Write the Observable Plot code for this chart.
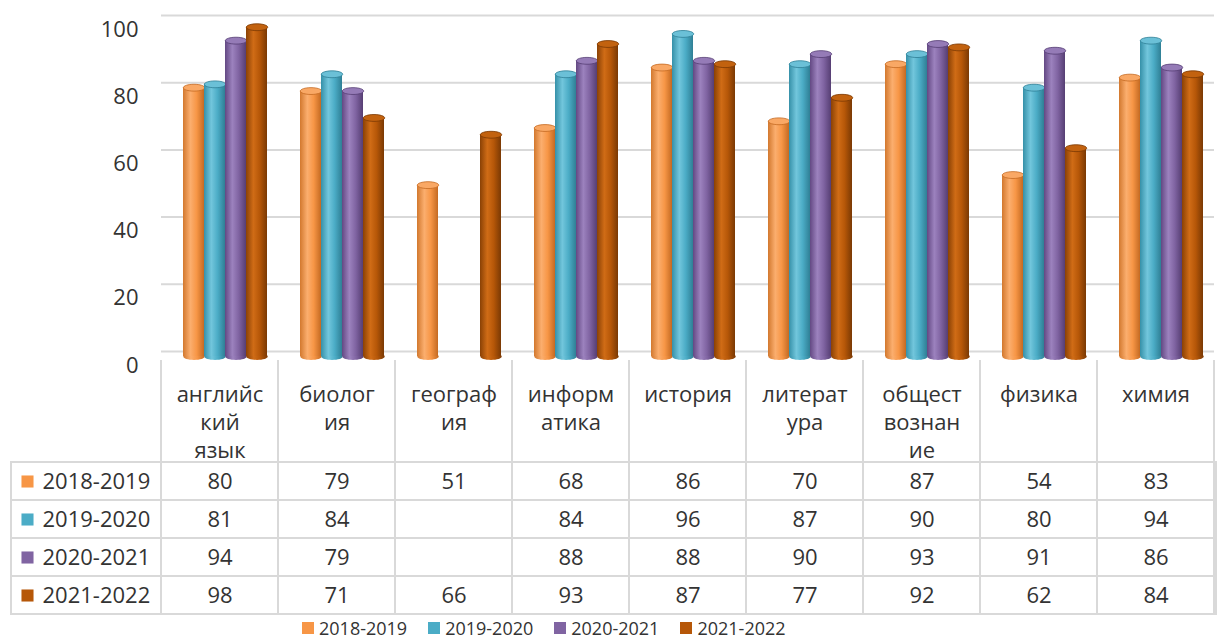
<!DOCTYPE html>
<html><head><meta charset="utf-8">
<script src="https://cdn.jsdelivr.net/npm/d3@7"></script>
<script src="https://cdn.jsdelivr.net/npm/@observablehq/plot@0.6"></script>
<style>
html,body{margin:0;padding:0;background:#fff;overflow:hidden;}
#chart svg{display:block;}
#legend .lg-swatches{margin:0 0 0 302px !important;padding:0 !important;font-family:"Open Sans",sans-serif !important;font-size:18px !important;color:#333 !important;height:24px !important;min-height:0 !important;line-height:24px !important;display:flex !important;align-items:center !important;}
#legend .lg-swatch{margin-right:21px !important;display:inline-flex;align-items:center;}
#legend .lg-swatch svg{margin-right:5px !important;}
</style></head><body>
<div id="chart"></div>
<div id="legend"></div>
<script>
// ---- data ----
const categories = ["английский язык","биология","география","информатика","история","литература","обществознание","физика","химия"];
const headerLabels = ["английс\nкий\nязык","биолог\nия","географ\nия","информ\nатика","история","литерат\nура","общест\nвознан\nие","физика","химия"];
const seriesNames = ["2018-2019","2019-2020","2020-2021","2021-2022"];
const values2018 = [80,79,51,68,86,70,87,54,83];
const values2019 = [81,84,null,84,96,87,90,80,94];
const values2020 = [94,79,null,88,88,90,93,91,86];
const values2021 = [98,71,66,93,87,77,92,62,84];
const yTicks = [0,20,40,60,80,100];

// ---- styles ----
const seriesColors = ["#F79646","#4BACC6","#8064A2","#B65708"];
const gradStops = [
  ["#D2782E","#FBAE6E","#F79646","#C46A22"],
  ["#3590A8","#72C6DC","#4BACC6","#2F7F95"],
  ["#634883","#9C82BE","#8064A2","#563E73"],
  ["#8A4105","#D06C16","#B65708","#7A3904"]
];
const capColors = ["#F9A865","#6BC0D7","#957BB7","#C2620F"];
const gridColor = "#d9d9d9";

const seriesValues = [values2018, values2019, values2020, values2021];
const rows = seriesNames.flatMap((s, i) => categories.map((c, j) => ({subject: c, series: s, value: seriesValues[i][j]})));

const ellipse = {
  draw(ctx, size) {
    const rx = Math.sqrt(size / Math.PI), ry = rx * 0.32, k = 0.5523;
    ctx.moveTo(-rx, 0);
    ctx.bezierCurveTo(-rx, -ry * k, -rx * k, -ry, 0, -ry);
    ctx.bezierCurveTo(rx * k, -ry, rx, -ry * k, rx, 0);
    ctx.bezierCurveTo(rx, ry * k, rx * k, ry, 0, ry);
    ctx.bezierCurveTo(-rx * k, ry, -rx, ry * k, -rx, 0);
    ctx.closePath();
  }
};

const marksA = [
  Plot.ruleY(yTicks, {y: d => d, stroke: gridColor, strokeWidth: 2, dy: -5}),
  Plot.axisY(yTicks, {tickSize: 0, tickPadding: 23, dy: 9, fontSize: 22, label: null})
];
seriesNames.forEach((s, i) => {
  const d = rows.filter(r => r.series === s && r.value != null);
  marksA.push(Plot.dot(d, {fx: "subject", x: "series", y: () => 0, r: 10.7, symbol: ellipse, fill: `url(#cyl${i})`, stroke: "none"}));
  marksA.push(Plot.barY(d, {fx: "subject", x: "series", y: "value", fill: `url(#cyl${i})`}));
  marksA.push(Plot.dot(d, {fx: "subject", x: "series", y: "value", r: 10.7, symbol: ellipse, fill: capColors[i], stroke: gradStops[i][3], strokeWidth: 0.8}));
});

const plotA = Plot.plot({
  width: 1221, height: 360,
  marginLeft: 158, marginRight: 5, marginTop: 20, marginBottom: 4,
  fx: {domain: categories, padding: 0, axis: null, label: null},
  x: {domain: seriesNames, paddingInner: 0.02, paddingOuter: 0.7, align: 0.66, axis: null},
  y: {domain: [0, 100], axis: null},
  style: {fontFamily: "'Open Sans', sans-serif", fontSize: "22px", color: "#333", background: "white", overflow: "visible"},
  marks: marksA
});

// gradient defs for cylinder shading
const ns = "http://www.w3.org/2000/svg";
const svgA = plotA.tagName.toLowerCase() === "svg" ? plotA : plotA.querySelector("svg");
const defs = document.createElementNS(ns, "defs");
gradStops.forEach((st, i) => {
  const g = document.createElementNS(ns, "linearGradient");
  g.setAttribute("id", `cyl${i}`);
  g.setAttribute("x1", "0"); g.setAttribute("x2", "1"); g.setAttribute("y1", "0"); g.setAttribute("y2", "0");
  [[0, st[0]], [0.35, st[1]], [0.65, st[2]], [1, st[3]]].forEach(([o, c]) => {
    const s = document.createElementNS(ns, "stop");
    s.setAttribute("offset", o); s.setAttribute("stop-color", c);
    g.appendChild(s);
  });
  defs.appendChild(g);
});
svgA.insertBefore(defs, svgA.firstChild);

const plotB = Plot.plot({
  width: 1221, height: 256,
  marginLeft: 158, marginRight: 5, marginTop: 0, marginBottom: 2,
  x: {domain: categories, padding: 0, axis: null},
  y: {domain: seriesNames, range: [101, 254], padding: 0, axis: null},
  color: {domain: seriesNames, range: seriesColors},
  style: {fontFamily: "'Open Sans', sans-serif", fontSize: "22px", color: "#333", background: "transparent"},
  marks: [
    Plot.cell(categories, {x: d => d, fill: "none", stroke: gridColor, strokeWidth: 2, insetTop: -6, clip: true}),
    Plot.text(categories, {x: d => d, text: (d, i) => headerLabels[i], frameAnchor: "top", lineAnchor: "top", dy: 21, lineHeight: 1.29, fill: "#333"}),
    Plot.cell(seriesNames, {y: d => d, fill: "none", stroke: gridColor, strokeWidth: 2, insetLeft: -147}),
    Plot.cell(rows, {x: "subject", y: "series", fill: "none", stroke: gridColor, strokeWidth: 2}),
    Plot.text(rows, {x: "subject", y: "series", text: d => d.value == null ? "" : String(d.value), fill: "#333"}),
    Plot.dot(seriesNames, {y: d => d, frameAnchor: "left", dx: -131, symbol: "square", r: 6.8, fill: d => d, stroke: "none"}),
    Plot.text(seriesNames, {y: d => d, text: d => d, frameAnchor: "left", textAnchor: "start", dx: -116, fill: "#333"})
  ]
});

document.getElementById("chart").append(plotA, plotB);

const legend = Plot.legend({color: {domain: seriesNames, range: seriesColors}, legend: "swatches", swatchSize: 12, className: "lg"});
document.getElementById("legend").append(legend);
</script>
</body></html>
